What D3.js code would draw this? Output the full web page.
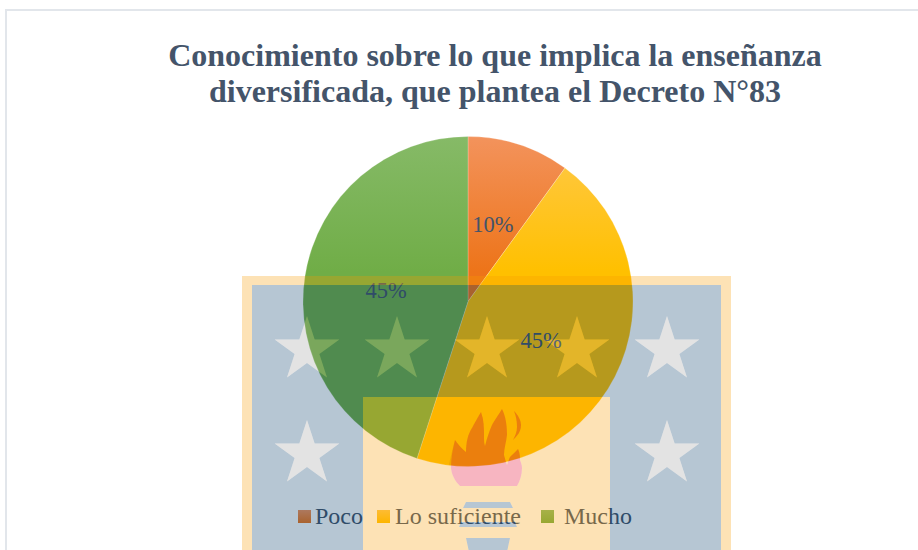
<!DOCTYPE html>
<html><head><meta charset="utf-8">
<script src="https://cdn.jsdelivr.net/npm/d3@7"></script>
<style>html,body{margin:0;padding:0;background:#fff}svg{display:block}</style>
</head><body><svg id="c" width="918" height="550"></svg>
<script>
const titleLines = ["Conocimiento sobre lo que implica la enseñanza","diversificada, que plantea el Decreto N°83"];
const categories = ["Poco","Lo suficiente","Mucho"];
const values = [10,45,45];
const labels = ["10%","45%","45%"];
const topColors = ["#f3935c","#ffc94a","#86ba67"];
const baseColors = ["#ed7419","#ffc000","#70ad47"];

const svg = d3.select("#c");
const FONT = "'Liberation Serif','Times New Roman',serif";
const TXT = "#44546a";
const cx = 468, cy = 301.5, R = 165;
const defs = svg.append("defs");

baseColors.forEach((c,i)=>{
  const s = defs.append("linearGradient").attr("id","s"+i).attr("x1",0).attr("x2",0).attr("y1",0).attr("y2",1);
  s.append("stop").attr("offset",0).attr("stop-color",topColors[i]);
  s.append("stop").attr("offset",1).attr("stop-color",c);
  const g = defs.append("linearGradient").attr("id","pg"+i).attr("gradientUnits","userSpaceOnUse")
    .attr("x1",0).attr("x2",0).attr("y1",-R).attr("y2",-30);
  g.append("stop").attr("offset",0).attr("stop-color",topColors[i]);
  g.append("stop").attr("offset",1).attr("stop-color",c);
});
defs.append("clipPath").attr("id","pieClip").append("circle").attr("cx",cx).attr("cy",cy).attr("r",R);

// frame
svg.append("path").attr("d","M6,550V10H918").attr("fill","none").attr("stroke","#e2e6eb").attr("stroke-width",2);

// title
svg.append("g").selectAll("text").data(titleLines).join("text")
  .attr("x",495).attr("y",(d,i)=>65.5+i*36).attr("text-anchor","middle")
  .attr("font-family",FONT).attr("font-weight","bold").attr("font-size",32).attr("fill",TXT).text(d=>d);

// pie
const pie = d3.pie().sort(null).value(d=>d)(values);
const arc = d3.arc().innerRadius(0).outerRadius(R);
const gp = svg.append("g").attr("transform",`translate(${cx},${cy})`);
gp.selectAll("path").data(pie).join("path").attr("d",arc)
  .attr("fill",(d,i)=>`url(#pg${i})`).attr("stroke","#fff").attr("stroke-opacity",.3).attr("stroke-width",.75);
gp.selectAll("text").data(pie).join("text")
  .attr("x",d=>arc.centroid(d)[0]-0.5).attr("y",d=>arc.centroid(d)[1]+9)
  .attr("text-anchor","middle").attr("font-family",FONT).attr("font-size",22.5).attr("fill",TXT)
  .text((d,i)=>labels[i]);

// legend
const legendSwatchX = d3.scaleOrdinal().domain(categories).range([298,377,541]);
const legendTextX = d3.scaleOrdinal().domain(categories).range([315,395,564]);
const lg = svg.append("g");
lg.selectAll("rect").data(categories).join("rect")
  .attr("x",d=>legendSwatchX(d)).attr("y",510).attr("width",13).attr("height",13)
  .attr("fill",(d,i)=>`url(#s${i})`);
lg.selectAll("text").data(categories).join("text")
  .attr("x",d=>legendTextX(d)).attr("y",524)
  .attr("font-family",FONT).attr("font-size",24).attr("fill",TXT).text(d=>d);

// watermark overlay (semi-transparent crest above the chart)
const stars = [[307,350],[397,350],[487,350],[577,350],[667,350],[307,454],[667,454]];
const starPath = ([x,y])=>{
  const pts=d3.range(10).map(k=>{const r=k%2?13:34,a=k*Math.PI/5;return [x+r*Math.sin(a),y-r*Math.cos(a)];});
  return "M"+pts.join("L")+"Z";
};
const torch = "M455,440C458,444 462,449 466,452C466,442 468,434 472,428C475,422 478,417 481,412C484,420 484,428 484,436C484,440 484,443 485,446C487,438 489,432 492,425C496,418 499,414 502,409C506,417 507,426 507,435C506,443 504,449 504,455C505,459 506,462 507,465C508,462 509,459 510,457C513,454 516,451 518,449C520,453 520,457 520,460C521,463 522,465 522,468C522,475 520,481 517,486L460,486C455,481 451,474 451,467C451,457 453,448 455,440Z M514,411C518,415 521,420 521,425C521,432 517,436 513,440C515,436 517,432 517,427C517,421 516,416 514,411Z";
const flames = "M455,440C458,444 462,449 466,452C466,442 468,434 472,428C475,422 478,417 481,412C484,420 484,428 484,436C484,440 484,443 485,446C487,438 489,432 492,425C496,418 499,414 502,409C506,417 507,426 507,435C506,443 504,449 504,455C505,459 506,462 507,465C508,462 509,459 510,457C513,454 516,451 518,449C520,453 520,457 520,460L525,480L445,480C449,465 452,450 455,440Z M514,411C518,415 521,420 521,425C521,432 517,436 513,440C515,436 517,432 517,427C517,421 516,416 514,411Z";
const pieces = "M466,502L510,502L513,508L463,508Z M461,522L515,522L517,527L459,527Z M466,538L510,538L507,552L469,552Z";

const mCream = defs.append("mask").attr("id","mCream").attr("maskUnits","userSpaceOnUse")
  .attr("x",0).attr("y",0).attr("width",918).attr("height",550);
mCream.append("rect").attr("width",918).attr("height",550).attr("fill","#fff");
mCream.append("path").attr("d",torch+pieces).attr("fill","#000");
const mBlue = defs.append("mask").attr("id","mBlue").attr("maskUnits","userSpaceOnUse")
  .attr("x",0).attr("y",0).attr("width",918).attr("height",550);
mBlue.append("rect").attr("width",918).attr("height",550).attr("fill","#fff");
stars.forEach(s=>mBlue.append("path").attr("d",starPath(s)).attr("fill","#000"));

const wm = svg.append("g");
wm.append("path").attr("fill","rgb(248,155,0)").attr("fill-opacity",.29).attr("fill-rule","evenodd")
  .attr("mask","url(#mCream)")
  .attr("d","M242,276H731V550H242Z M252,285H721V550H610V397H363V550H252Z");
wm.append("path").attr("fill","rgb(0,56,101)").attr("fill-opacity",.286).attr("mask","url(#mBlue)")
  .attr("d","M252,285H721V550H610V397H363V550H252Z");
wm.append("path").attr("fill","rgb(0,56,101)").attr("fill-opacity",.286).attr("d",pieces);
wm.selectAll(".star").data(stars).join("path").attr("class","star").attr("d",starPath)
  .attr("fill","rgb(150,150,150)").attr("fill-opacity",.27);
wm.append("path").attr("d",torch).attr("fill","rgb(230,10,50)").attr("fill-opacity",.3);
wm.append("path").attr("d",flames).attr("clip-path","url(#pieClip)").attr("fill","rgb(90,0,0)").attr("fill-opacity",.07);
</script></body></html>
